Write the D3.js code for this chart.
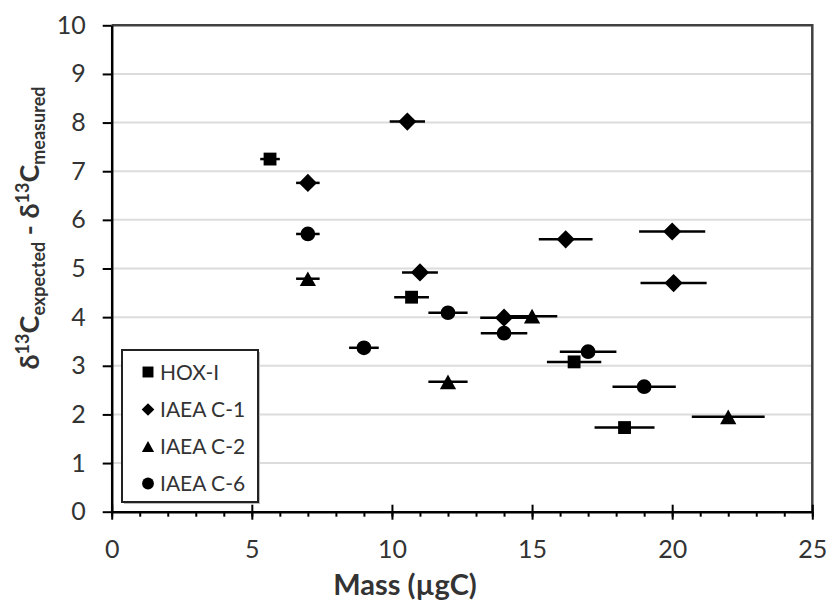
<!DOCTYPE html>
<html><head><meta charset="utf-8">
<script src="https://cdn.jsdelivr.net/npm/d3@7"></script>
<style>html,body{margin:0;padding:0;background:#fff;}svg{display:block;font-family:Lato,Carlito,"Open Sans",sans-serif;}</style>
</head><body>
<svg id="chart" width="829" height="600"></svg>
<script>
// ---- data ----
const seriesNames = ["HOX-I", "IAEA C-1", "IAEA C-2", "IAEA C-6"];
const hoxMass = [5.65, 10.7, 16.5, 18.3];
const hoxVal  = [7.25, 4.41, 3.08, 1.73];
const hoxErr  = [0.35, 0.62, 0.97, 1.07];
const c1Mass = [10.55, 7.0, 11.0, 16.2, 20.0, 20.05, 14.0];
const c1Val  = [8.02, 6.76, 4.92, 5.60, 5.76, 4.70, 3.99];
const c1Err  = [0.63, 0.42, 0.64, 0.96, 1.18, 1.18, 0.85];
const c2Mass = [7.0, 15.0, 12.0, 22.0];
const c2Val  = [4.79, 4.02, 2.67, 1.95];
const c2Err  = [0.42, 0.90, 0.70, 1.30];
const c6Mass = [7.0, 9.0, 12.0, 14.0, 17.0, 19.0];
const c6Val  = [5.71, 3.37, 4.09, 3.67, 3.29, 2.57];
const c6Err  = [0.42, 0.53, 0.70, 0.83, 1.01, 1.13];
const xTicks = [0, 5, 10, 15, 20, 25];
const yTicks = [0, 1, 2, 3, 4, 5, 6, 7, 8, 9, 10];
const xTitle = "Mass (µgC)";

// ---- layout ----
const svg = d3.select("#chart");
const x = d3.scaleLinear().domain([0, 25]).range([111.7, 812.3]);
const y = d3.scaleLinear().domain([0, 10]).range([511.7, 25.3]);

// custom symbols
const symDiamond = {draw(c, size){const r=Math.sqrt(size/2);c.moveTo(0,-r);c.lineTo(r,0);c.lineTo(0,r);c.lineTo(-r,0);c.closePath();}};
const symTri = {draw(c, size){const w=Math.sqrt(size*1.15);const h=w*0.9;c.moveTo(0,-h/2);c.lineTo(w/2,h/2);c.lineTo(-w/2,h/2);c.closePath();}};
const symSquare = d3.symbolSquare;
const symCircle = d3.symbolCircle;

const series = [
  {name: seriesNames[0], mass: hoxMass, val: hoxVal, err: hoxErr, type: symSquare, size: 165, lsize: 120},
  {name: seriesNames[1], mass: c1Mass, val: c1Val, err: c1Err, type: symDiamond, size: 165, lsize: 80},
  {name: seriesNames[2], mass: c2Mass, val: c2Val, err: c2Err, type: symTri, size: 230, lsize: 130},
  {name: seriesNames[3], mass: c6Mass, val: c6Val, err: c6Err, type: symCircle, size: 170, lsize: 110}
];

// gridlines
svg.append("g").selectAll("line").data(yTicks.filter(d => d > 0 && d < 10)).join("line")
  .attr("x1", x(0)).attr("x2", x(25)).attr("y1", d => y(d)).attr("y2", d => y(d))
  .attr("stroke", "#dcdcdc").attr("stroke-width", 2);

// plot border (top/right)
svg.append("path")
  .attr("d", `M${x(0)},${y(10)}H${x(25)}V${y(0)}`)
  .attr("fill", "none").attr("stroke", "#404040").attr("stroke-width", 2.5);

// x axis minor ticks
const xMinor = svg.append("g").attr("transform", `translate(0,${y(0)})`)
  .call(d3.axisBottom(x).tickValues(d3.range(0, 26)).tickSize(5).tickFormat(""));
xMinor.select(".domain").remove();
xMinor.selectAll("line").attr("stroke", "#000").attr("stroke-width", 2);

// x axis major
const xAxis = svg.append("g").attr("transform", `translate(0,${y(0)})`)
  .call(d3.axisBottom(x).tickValues(xTicks).tickSizeInner(8).tickSizeOuter(0).tickPadding(21));
xAxis.select(".domain").attr("stroke", "#000").attr("stroke-width", 2.5);
xAxis.selectAll(".tick line").attr("y1", -7).attr("stroke", "#000").attr("stroke-width", 2);
xAxis.selectAll("text").attr("font-size", 25).attr("fill", "#333").attr("font-family", "Lato,Carlito,sans-serif");

// y axis
const yAxis = svg.append("g").attr("transform", `translate(${x(0)},0)`)
  .call(d3.axisLeft(y).tickValues(yTicks).tickSizeInner(9).tickSizeOuter(0).tickPadding(17));
yAxis.select(".domain").attr("stroke", "#000").attr("stroke-width", 2.5);
yAxis.selectAll(".tick line").attr("stroke", "#000").attr("stroke-width", 2);
yAxis.selectAll("text").attr("font-size", 25).attr("fill", "#333").attr("font-family", "Lato,Carlito,sans-serif");

// error bars
const gErr = svg.append("g");
series.forEach(s => {
  gErr.append("g").selectAll("line").data(s.mass.map((m, i) => ({m, v: s.val[i], e: s.err[i]}))).join("line")
    .attr("x1", d => x(d.m - d.e)).attr("x2", d => x(d.m + d.e))
    .attr("y1", d => y(d.v)).attr("y2", d => y(d.v))
    .attr("stroke", "#000").attr("stroke-width", 2.5);
});
// markers
series.forEach(s => {
  svg.append("g").selectAll("path").data(s.mass.map((m, i) => ({m, v: s.val[i]}))).join("path")
    .attr("transform", d => `translate(${x(d.m)},${y(d.v)})`)
    .attr("d", d3.symbol().type(s.type).size(s.size))
    .attr("fill", "#000");
});

// legend
const lg = svg.append("g");
lg.append("rect").attr("x", 124).attr("y", 352).attr("width", 136).attr("height", 152).attr("fill", "#bbb");
lg.append("rect").attr("x", 122).attr("y", 350).attr("width", 136).attr("height", 152)
  .attr("fill", "#fff").attr("stroke", "#222").attr("stroke-width", 2);
const rowY = [372, 409.5, 446.5, 483.5];
series.forEach((s, i) => {
  lg.append("path").attr("transform", `translate(148,${rowY[i]})`)
    .attr("d", d3.symbol().type(s.type).size(s.lsize)).attr("fill", "#000");
  lg.append("text").attr("x", 160).attr("y", rowY[i]).attr("dy", "0.36em")
    .attr("font-size", 21).attr("fill", "#333").text(s.name);
});

// x title
svg.append("text").attr("x", 405).attr("y", 595).attr("text-anchor", "middle")
  .attr("font-size", 29).attr("font-weight", "bold").attr("fill", "#333").text(xTitle);

// y title
const yt = svg.append("text").attr("transform", "translate(39,228) rotate(-90)")
  .attr("text-anchor", "middle").attr("font-weight", "bold").attr("fill", "#333").attr("font-size", 27);
const parts = [
  ["δ", 27, 0], ["13", 18, -10], ["C", 27, 10], ["expected", 18, 6], [" - ", 27, -6],
  ["δ", 27, 0], ["13", 18, -10], ["C", 27, 10], ["measured", 18, 6]
];
parts.forEach(p => yt.append("tspan").attr("font-size", p[1]).attr("dy", p[2]).text(p[0]));
</script>
</body></html>
